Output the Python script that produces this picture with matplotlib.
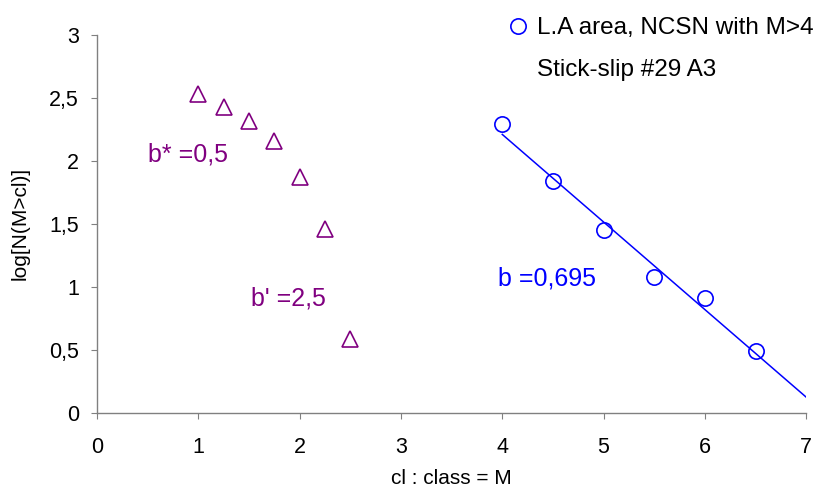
import matplotlib
matplotlib.use('Agg')
import matplotlib.pyplot as plt
from matplotlib.lines import Line2D

plt.rcParams['font.family'] = ['Liberation Sans', 'DejaVu Sans']

# Stick-slip #29 A3 (triangles)
lab_x = [1.0, 1.25, 1.5, 1.75, 2.0, 2.25, 2.5]
lab_y = [2.53, 2.43, 2.32, 2.16, 1.87, 1.46, 0.59]

# L.A area, NCSN with M>4 (circles)
la_x = [4.0, 4.5, 5.0, 5.5, 6.0, 6.5]
la_y = [2.29, 1.84, 1.45, 1.08, 0.91, 0.49]

# fitted line log N = a - b*M
b_val = 0.695
a_val = 4.99
fit_x = [4.0, 7.0]

purple = '#800080'
blue = '#0000FF'
grey = '#808080'

fig = plt.figure(figsize=(8.18, 4.91), dpi=100)
ax = fig.add_axes([0.1186, 0.159, 0.867, 0.770])

ax.plot(lab_x, lab_y, linestyle='none', marker='^', ms=12, mfc='none',
        mec=purple, mew=1.2)
ax.plot(la_x, la_y, linestyle='none', marker='o', ms=11, mfc='none',
        mec=blue, mew=1.2)
ax.plot(fit_x, [a_val - b_val * x for x in fit_x], color=blue, lw=1.1)

ax.text(0.5, 2.05, 'b* =0,5', color=purple, fontsize=18, va='center')
ax.text(1.52, 0.91, "b' =2,5", color=purple, fontsize=18, va='center')
ax.text(3.96, 1.07, 'b =0,695', color=blue, fontsize=18, va='center')

ax.set_xlim(0, 7)
ax.set_ylim(0, 3)
ax.set_xticks(range(0, 8))
ax.set_yticks([0, 0.5, 1, 1.5, 2, 2.5, 3])
ax.set_yticklabels(['0', '0,5', '1', '1,5', '2', '2,5', '3'])

for s in ['top', 'right']:
    ax.spines[s].set_visible(False)
for s in ['left', 'bottom']:
    ax.spines[s].set_color(grey)
    ax.spines[s].set_linewidth(1.0)
ax.tick_params(axis='both', direction='out', color=grey, length=4.5,
               labelsize=15.5)
ax.tick_params(axis='x', pad=13)
ax.tick_params(axis='y', pad=8.5)

ax.set_xlabel('cl : class = M', fontsize=15, labelpad=8)
ax.set_ylabel('log[N(M>cl)]', fontsize=15, labelpad=14)

handles = [Line2D([], [], linestyle='none', marker='o', ms=11, mfc='none',
                  mec=blue, mew=1.2),
           Line2D([], [], linestyle='none')]
ax.legend(handles, ['L.A area, NCSN with M>4', 'Stick-slip #29 A3'],
          frameon=False, fontsize=17.5, loc='upper right',
          bbox_to_anchor=(1.022, 1.009), bbox_transform=fig.transFigure,
          handletextpad=0.3, labelspacing=0.8, handlelength=1.0)

fig.savefig('out.png', dpi=100)
